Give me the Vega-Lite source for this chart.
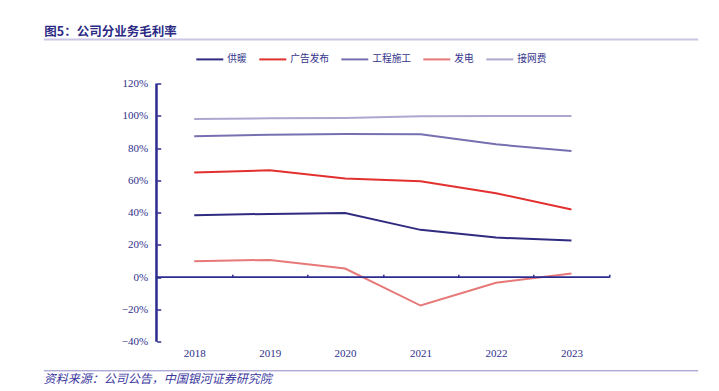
{
  "$schema": "https://vega.github.io/schema/vega-lite/v6.json",
  "width": 654.4,
  "height": 258.2,
  "autosize": {"type": "none"},
  "padding": {"left": 43.3, "top": 83.5, "right": 21.3, "bottom": 49.3},
  "background": "white",
  "config": {"view": {"stroke": null}, "font": "Liberation Serif, Noto Sans CJK SC"},
  "title": {
    "text": "图5：公司分业务毛利率",
    "anchor": "start",
    "frame": "group",
    "font": "Noto Sans CJK SC",
    "fontSize": 12.5,
    "fontWeight": "bold",
    "color": "#2B2A84",
    "offset": 1,
    "dx": 1
  },
  "datasets": {
    "margins": [
      {"year": 2018, "series": "供暖", "value": 0.384},
      {"year": 2019, "series": "供暖", "value": 0.392},
      {"year": 2020, "series": "供暖", "value": 0.398},
      {"year": 2021, "series": "供暖", "value": 0.293},
      {"year": 2022, "series": "供暖", "value": 0.245},
      {"year": 2023, "series": "供暖", "value": 0.227},
      {"year": 2018, "series": "广告发布", "value": 0.648},
      {"year": 2019, "series": "广告发布", "value": 0.662},
      {"year": 2020, "series": "广告发布", "value": 0.611},
      {"year": 2021, "series": "广告发布", "value": 0.594},
      {"year": 2022, "series": "广告发布", "value": 0.52},
      {"year": 2023, "series": "广告发布", "value": 0.419},
      {"year": 2018, "series": "工程施工", "value": 0.873},
      {"year": 2019, "series": "工程施工", "value": 0.883},
      {"year": 2020, "series": "工程施工", "value": 0.887},
      {"year": 2021, "series": "工程施工", "value": 0.885},
      {"year": 2022, "series": "工程施工", "value": 0.823},
      {"year": 2023, "series": "工程施工", "value": 0.782},
      {"year": 2018, "series": "发电", "value": 0.099},
      {"year": 2019, "series": "发电", "value": 0.107},
      {"year": 2020, "series": "发电", "value": 0.053},
      {"year": 2021, "series": "发电", "value": -0.176},
      {"year": 2022, "series": "发电", "value": -0.035},
      {"year": 2023, "series": "发电", "value": 0.022},
      {"year": 2018, "series": "接网费", "value": 0.98},
      {"year": 2019, "series": "接网费", "value": 0.984},
      {"year": 2020, "series": "接网费", "value": 0.986},
      {"year": 2021, "series": "接网费", "value": 0.997},
      {"year": 2022, "series": "接网费", "value": 0.998},
      {"year": 2023, "series": "接网费", "value": 0.998}
    ]
  },
  "resolve": {"axis": {"x": "independent", "y": "independent"}},
  "layer": [
    {
      "data": {"name": "margins"},
      "mark": {"type": "line", "strokeWidth": 2},
      "encoding": {
        "x": {
          "field": "year",
          "type": "quantitative",
          "scale": {"domain": [2016, 2024.673], "nice": false, "zero": false},
          "axis": {
            "orient": "bottom",
            "values": [2018, 2019, 2020, 2021, 2022, 2023],
            "format": "d",
            "domain": false,
            "ticks": false,
            "grid": false,
            "labelFlush": false,
            "labelOverlap": false,
            "labelPadding": 6,
            "labelFont": "Liberation Serif",
            "labelFontSize": 11,
            "labelColor": "#2E2F8A",
            "title": null
          }
        },
        "y": {
          "field": "value",
          "type": "quantitative",
          "scale": {"domain": [-0.4, 1.2], "nice": false, "zero": false},
          "axis": {
            "orient": "left",
            "offset": -113.4,
            "values": [-0.4, -0.2, 0, 0.2, 0.4, 0.6, 0.8, 1, 1.2],
            "format": ".0%",
            "grid": false,
            "domain": false,
            "ticks": true,
            "tickColor": "#2B2B8F",
            "tickSize": -4,
            "tickWidth": 1.5,
            "labelPadding": 13,
            "labelFlush": false,
            "labelOverlap": false,
            "labelFont": "Liberation Serif",
            "labelFontSize": 11,
            "labelColor": "#2E2F8A",
            "title": null
          }
        },
        "color": {
          "field": "series",
          "type": "nominal",
          "scale": {
            "domain": ["供暖", "广告发布", "工程施工", "发电", "接网费"],
            "range": ["#2F2B80", "#E2302F", "#7670B0", "#E67878", "#ABA7CF"]
          },
          "legend": {
            "orient": "none",
            "legendX": 152,
            "legendY": -39,
            "direction": "horizontal",
            "title": null,
            "symbolType": "stroke",
            "symbolSize": 729,
            "symbolStrokeWidth": 2,
            "labelFont": "Noto Sans CJK SC",
            "labelFontSize": 9.7,
            "labelColor": "#34338A",
            "labelOffset": 3,
            "columnPadding": 8
          }
        }
      }
    },
    {
      "data": {"values": [{}]},
      "mark": {"type": "rule", "color": "#2B2B8F", "strokeWidth": 1.8},
      "encoding": {
        "x": {
          "datum": 2017.5,
          "type": "quantitative",
          "scale": {"domain": [2016, 2024.673], "nice": false, "zero": false},
          "axis": {
            "orient": "bottom",
            "offset": -64.4,
            "values": [2018.5, 2019.5, 2020.5, 2021.5, 2022.5, 2023.5],
            "labels": false,
            "domain": false,
            "ticks": true,
            "tickSize": -3,
            "tickColor": "#2B2B8F",
            "tickWidth": 1.5,
            "grid": false,
            "title": null
          }
        },
        "x2": {"datum": 2023.5},
        "y": {"datum": 0, "type": "quantitative", "axis": null}
      }
    },
    {
      "data": {"values": [{}]},
      "mark": {"type": "rule", "color": "#2B2B8F", "strokeWidth": 2.5},
      "encoding": {
        "x": {
          "datum": 2017.5,
          "type": "quantitative",
          "scale": {"domain": [2016, 2024.673], "nice": false, "zero": false},
          "axis": null
        },
        "y": {"datum": -0.4, "type": "quantitative", "axis": null},
        "y2": {"datum": 1.2}
      }
    },
    {
      "data": {"values": []},
      "mark": "point",
      "encoding": {
        "x": {
          "field": "year",
          "type": "quantitative",
          "scale": {"domain": [2016, 2024.673], "nice": false, "zero": false},
          "axis": {
            "orient": "bottom",
            "offset": 28.6,
            "labels": false,
            "ticks": false,
            "grid": false,
            "domain": true,
            "domainColor": "#8E88C6",
            "domainWidth": 1,
            "title": "资料来源：公司公告，中国银河证券研究院",
            "titleAnchor": "start",
            "titleAlign": "left",
            "titleFont": "Noto Sans CJK SC",
            "titleFontSize": 12,
            "titleFontStyle": "italic",
            "titleFontWeight": "normal",
            "titleColor": "#3B38A0",
            "titlePadding": 3
          }
        }
      }
    },
    {
      "data": {"values": []},
      "mark": "point",
      "encoding": {
        "x": {
          "field": "year",
          "type": "quantitative",
          "scale": {"domain": [2016, 2024.673], "nice": false, "zero": false},
          "axis": {
            "orient": "top",
            "offset": 44.5,
            "labels": false,
            "ticks": false,
            "grid": false,
            "domain": true,
            "domainColor": "#CAC6E4",
            "domainWidth": 2,
            "title": null
          }
        }
      }
    }
  ]
}
